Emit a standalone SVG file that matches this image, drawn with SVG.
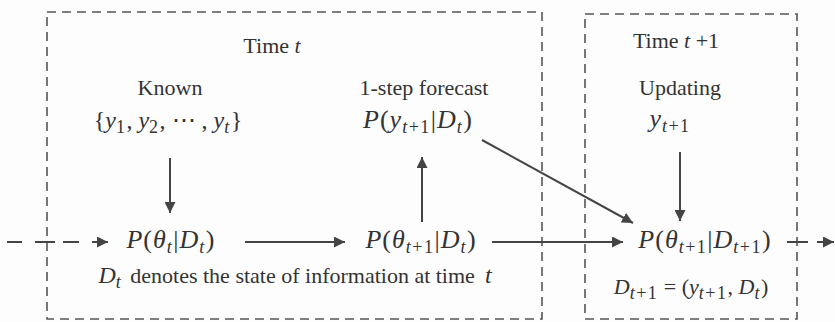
<svg xmlns="http://www.w3.org/2000/svg" width="835" height="322" viewBox="0 0 835 322">
  <style>
    .bg { fill: #fdfdfd; }
    .box { fill: none; stroke: #555; stroke-width: 1.6; stroke-dasharray: 9 6; }
    .lbl { font-family: "Liberation Serif", "Times New Roman", serif; font-size: 22px; fill: #333; text-anchor: middle; }
    .math { font-family: "Liberation Serif", "Times New Roman", serif; font-size: 26px; fill: #333; text-anchor: middle; letter-spacing: 1px; }
    .it { font-style: italic; }
    .sub { font-size: 18px; font-style: italic; letter-spacing: 1.5px; }
    .subn { font-size: 18px; font-style: normal; letter-spacing: 1.5px; }
    .conn line { stroke: #444; stroke-width: 2; fill: none; }
  </style>
  <defs>
    <marker id="ah" viewBox="0 0 10 10" refX="10" refY="5" markerWidth="5.5" markerHeight="5.5" orient="auto" markerUnits="strokeWidth">
      <path d="M0,0 L10,5 L0,10 z" fill="#444"/>
    </marker>
  </defs>
  <rect class="bg" x="0" y="0" width="835" height="322"/>

  <g id="box-time-t">
    <rect class="box" x="47" y="12" width="495" height="307"/>
    <text class="lbl" x="272" y="53">Time <tspan class="it">t</tspan></text>
  </g>
  <g id="box-time-t1">
    <rect class="box" x="585" y="14" width="212" height="305"/>
    <text class="lbl" x="676" y="48">Time <tspan class="it">t</tspan> +1</text>
  </g>

  <g id="known">
    <text class="lbl" x="170" y="95">Known</text>
    <text class="math" x="168" y="128" style="font-size:24px;letter-spacing:0">{<tspan class="it">y</tspan><tspan class="subn" dy="5">1</tspan><tspan dy="-5">, </tspan><tspan class="it">y</tspan><tspan class="subn" dy="5">2</tspan><tspan dy="-5">, ⋯ , </tspan><tspan class="it">y</tspan><tspan class="sub" dy="5">t</tspan><tspan dy="-5">}</tspan></text>
  </g>

  <g id="forecast">
    <text class="lbl" x="424" y="95">1-step forecast</text>
    <text class="math" x="418" y="128"><tspan class="it">P</tspan>(<tspan class="it">y</tspan><tspan class="sub" dy="5">t</tspan><tspan class="subn">+1</tspan><tspan dy="-5">|</tspan><tspan class="it">D</tspan><tspan class="sub" dy="5">t</tspan><tspan dy="-5">)</tspan></text>
  </g>

  <g id="updating">
    <text class="lbl" x="680" y="95">Updating</text>
    <text class="math" x="670" y="127"><tspan class="it">y</tspan><tspan class="sub" dy="5">t</tspan><tspan class="subn">+1</tspan></text>
  </g>

  <g id="prior-t">
    <text class="math" x="171" y="248"><tspan class="it">P</tspan>(<tspan class="it">θ</tspan><tspan class="sub" dy="5">t</tspan><tspan dy="-5">|</tspan><tspan class="it">D</tspan><tspan class="sub" dy="5">t</tspan><tspan dy="-5">)</tspan></text>
  </g>

  <g id="prior-t1">
    <text class="math" x="421" y="248"><tspan class="it">P</tspan>(<tspan class="it">θ</tspan><tspan class="sub" dy="5">t</tspan><tspan class="subn">+1</tspan><tspan dy="-5">|</tspan><tspan class="it">D</tspan><tspan class="sub" dy="5">t</tspan><tspan dy="-5">)</tspan></text>
  </g>

  <g id="posterior-t1">
    <text class="math" x="705" y="248"><tspan class="it">P</tspan>(<tspan class="it">θ</tspan><tspan class="sub" dy="5">t</tspan><tspan class="subn">+1</tspan><tspan dy="-5">|</tspan><tspan class="it">D</tspan><tspan class="sub" dy="5">t</tspan><tspan class="subn">+1</tspan><tspan dy="-5">)</tspan></text>
  </g>

  <g id="note-t">
    <text class="lbl" x="295" y="283"><tspan class="it" font-size="24">D</tspan><tspan class="sub" dy="5">t</tspan><tspan dy="-5" dx="8">denotes the state of information at time</tspan><tspan class="it" font-size="24" dx="10">t</tspan></text>
  </g>

  <g id="note-t1">
    <text class="math" x="691" y="294" style="font-size:22px;letter-spacing:0"><tspan class="it">D</tspan><tspan class="sub" dy="5">t</tspan><tspan class="subn">+1</tspan><tspan dy="-5"> = (</tspan><tspan class="it">y</tspan><tspan class="sub" dy="5">t</tspan><tspan class="subn">+1</tspan><tspan dy="-5">, </tspan><tspan class="it">D</tspan><tspan class="sub" dy="5">t</tspan><tspan dy="-5">)</tspan></text>
  </g>

  <g id="connectors" class="conn">
    <line x1="7" y1="242" x2="22" y2="242"/>
    <line x1="35" y1="242" x2="55" y2="242"/>
    <line x1="63" y1="242" x2="79" y2="242"/>
    <line x1="92" y1="242" x2="108" y2="242" marker-end="url(#ah)"/>
    <line x1="170" y1="158" x2="170" y2="213" marker-end="url(#ah)"/>
    <line x1="245" y1="242" x2="345" y2="242" marker-end="url(#ah)"/>
    <line x1="422" y1="222" x2="422" y2="157" marker-end="url(#ah)"/>
    <line x1="492" y1="242" x2="623" y2="242" marker-end="url(#ah)"/>
    <line x1="482" y1="140" x2="633" y2="223" marker-end="url(#ah)"/>
    <line x1="680" y1="152" x2="680" y2="221" marker-end="url(#ah)"/>
    <line x1="787" y1="242" x2="808" y2="242"/>
    <line x1="817" y1="242" x2="834" y2="242" marker-end="url(#ah)"/>
  </g>
</svg>
